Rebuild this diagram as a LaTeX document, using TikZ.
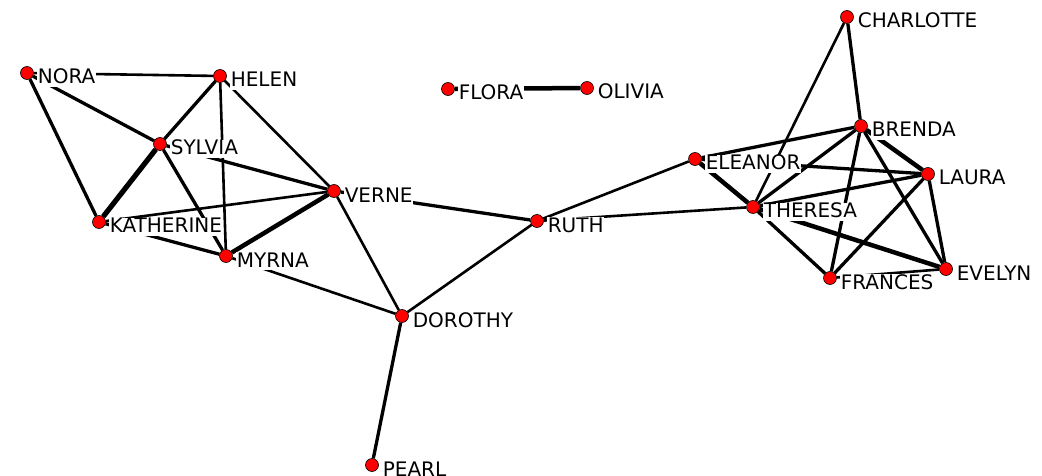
\documentclass[tikz,border=0pt]{standalone}
\usepackage{fontspec}
\setmainfont{DejaVu Sans}
\usepackage{tikz}
\definecolor{dot}{HTML}{ff0000}
\definecolor{ink}{HTML}{000000}

\tikzset{
  woman/.style={circle, draw=ink, line width=0.6pt, fill=dot, minimum size=13pt, inner sep=0pt},
  nametag/.style={anchor=base west, fill=white, inner sep=0.6pt, text depth=0.22em, font=\fontsize{20}{20}\selectfont},
  lite/.style={draw=ink, line width=2.6pt},
  mid/.style={draw=ink, line width=3.3pt},
  bold/.style={draw=ink, line width=4.5pt}
}

\begin{document}
\begin{tikzpicture}[x=1pt, y=-1pt]
  \useasboundingbox (0,0) rectangle (1042,476);
  % Women (positions in pixels)
  \node[woman] (nora) at (27,73) {};
  \node[woman] (helen) at (220,76) {};
  \node[woman] (sylvia) at (160,144) {};
  \node[woman] (verne) at (334,191) {};
  \node[woman] (katherine) at (99,222) {};
  \node[woman] (myrna) at (226,256) {};
  \node[woman] (dorothy) at (402,316) {};
  \node[woman] (pearl) at (372,465) {};
  \node[woman] (ruth) at (537,221) {};
  \node[woman] (flora) at (448,89) {};
  \node[woman] (olivia) at (587,88) {};
  \node[woman] (eleanor) at (695,159) {};
  \node[woman] (theresa) at (753,207) {};
  \node[woman] (charlotte) at (847,17) {};
  \node[woman] (brenda) at (861,126) {};
  \node[woman] (laura) at (928,174) {};
  \node[woman] (evelyn) at (946,269) {};
  \node[woman] (frances) at (830,278) {};

  % Ties, left group
  \draw[lite] (nora) -- (helen);
  \draw[mid] (nora) -- (sylvia);
  \draw[mid] (nora) -- (katherine);
  \draw[mid] (helen) -- (sylvia);
  \draw[lite] (helen) -- (myrna);
  \draw[lite] (helen) -- (verne);
  \draw[draw=ink, line width=5.2pt] (sylvia) -- (katherine);
  \draw[mid] (sylvia) -- (myrna);
  \draw[mid] (sylvia) -- (verne);
  \draw[lite] (katherine) -- (verne);
  \draw[mid] (katherine) -- (myrna);
  \draw[bold] (myrna) -- (verne);
  \draw[lite] (myrna) -- (dorothy);
  \draw[lite] (verne) -- (dorothy);
  \draw[mid] (verne) -- (ruth);
  \draw[lite] (ruth) -- (dorothy);
  \draw[mid] (dorothy) -- (pearl);
  \draw[bold] (flora) -- (olivia);
  % Ties, right group
  \draw[lite] (ruth) -- (eleanor);
  \draw[lite] (ruth) -- (theresa);
  \draw[bold] (eleanor) -- (theresa);
  \draw[mid] (theresa) -- (frances);
  \draw[mid] (eleanor) -- (brenda);
  \draw[mid] (eleanor) -- (laura);
  \draw[lite] (theresa) -- (charlotte);
  \draw[mid] (charlotte) -- (brenda);
  \draw[mid] (theresa) -- (brenda);
  \draw[mid] (theresa) -- (laura);
  \draw[bold] (theresa) -- (evelyn);
  \draw[bold] (brenda) -- (laura);
  \draw[mid] (brenda) -- (frances);
  \draw[mid] (brenda) -- (evelyn);
  \draw[mid] (laura) -- (frances);
  \draw[mid] (laura) -- (evelyn);
  \draw[lite] (frances) -- (evelyn);

  % Names, on top of the ties
  \foreach \w/\t in {nora/NORA, helen/HELEN, sylvia/SYLVIA, verne/VERNE,
      katherine/KATHERINE, myrna/MYRNA, dorothy/DOROTHY, pearl/PEARL,
      ruth/RUTH, flora/FLORA, olivia/OLIVIA, eleanor/ELEANOR,
      theresa/THERESA, charlotte/CHARLOTTE, brenda/BRENDA, laura/LAURA,
      evelyn/EVELYN, frances/FRANCES}
    \node[nametag] (\w-name) at ([xshift=10pt, yshift=-11pt]\w.center) {\t};
\end{tikzpicture}
\end{document}
